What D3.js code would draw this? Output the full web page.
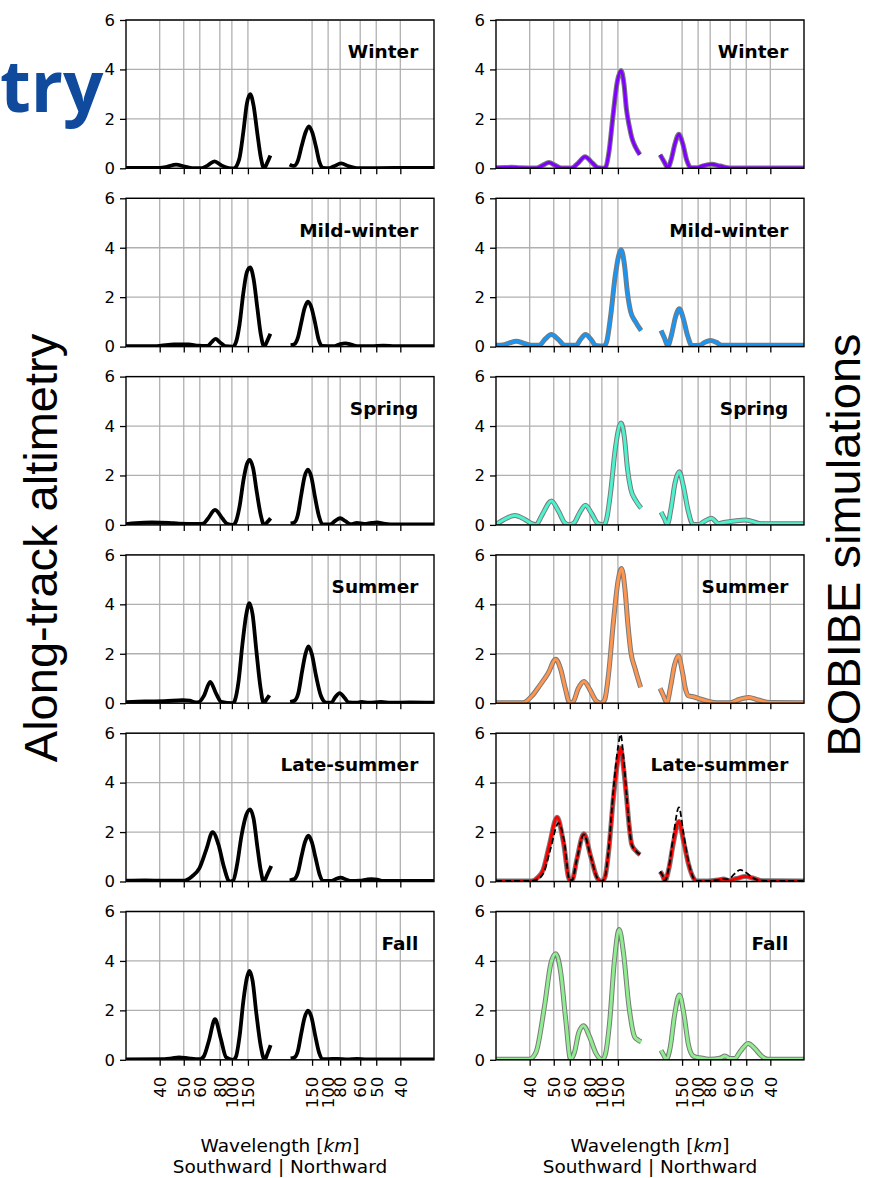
<!DOCTYPE html>
<html>
<head>
<meta charset="utf-8">
<script src="https://cdn.jsdelivr.net/npm/d3@7/dist/d3.min.js"></script>
<style>
  body { margin: 0; background: #fff; }
  text { font-family: "DejaVu Sans", sans-serif; }
</style>
</head>
<body>
<svg width="880" height="1178"></svg>
<script>
// wavenumber k in cycles per 1000 km (negative = southward), value = spectral amplitude
var seasons = ["Winter", "Mild-winter", "Spring", "Summer", "Late-summer", "Fall"];
var tickWavelengths = [40, 50, 60, 80, 100, 150];

var altWinter = [[-32,0.02],[-25,0.02],[-23.5,0.06],[-21.6,0.15],[-19.8,0.07],[-18.2,0.01],[-16.2,0.01],[-15,0.12],[-13.6,0.28],[-12.2,0.12],[-10.6,0.01],[-9.6,0],[-8.5,0.35],[-7.6,1.5],[-6.9,2.6],[-6.2,3.0],[-5.5,2.55],[-4.7,1.4],[-4.0,0.45],[-3.3,0],[-2.6,0.25],[-2.0,0.52],
  [2.0,0.15],[2.7,0.1],[3.0,0.1],[3.7,0.3],[4.5,0.9],[5.3,1.45],[6.0,1.7],[6.7,1.45],[7.5,0.85],[8.2,0.25],[8.9,0.02],[10.2,0.01],[11.2,0.08],[12.7,0.2],[14.2,0.09],[15.9,0.01],[20,0.01],[28,0.02],[32,0.02]];
var altMild = [[-32,0.02],[-26,0.02],[-24.7,0.04],[-22,0.09],[-19,0.09],[-17,0.04],[-15.1,0.03],[-14.2,0.18],[-13.4,0.31],[-12.5,0.18],[-11.4,0.02],[-9.8,0],[-9.2,0.15],[-8.4,0.9],[-7.6,2.2],[-6.9,3.0],[-6.2,3.2],[-5.5,2.75],[-4.7,1.55],[-4.0,0.5],[-3.3,0],[-2.6,0.25],[-2.0,0.52],
  [2.2,0.06],[3.0,0.1],[3.7,0.35],[4.4,0.95],[5.1,1.55],[5.8,1.82],[6.5,1.6],[7.3,0.95],[8.0,0.3],[8.7,0.03],[11.3,0.02],[12.5,0.1],[13.6,0.13],[14.8,0.08],[16,0.02],[19,0.02],[21.5,0.04],[24,0.02],[32,0.02]];
var altSpring = [[-32,0.03],[-30,0.07],[-26.6,0.1],[-23,0.08],[-21,0.05],[-17,0.04],[-16,0.05],[-15,0.25],[-13.5,0.61],[-12,0.27],[-11,0.05],[-9.8,0],[-9.2,0.12],[-8.4,0.75],[-7.6,1.8],[-6.9,2.45],[-6.3,2.63],[-5.6,2.3],[-4.8,1.3],[-4.0,0.4],[-3.3,0],[-2.6,0.12],[-1.95,0.27],
  [2.2,0.06],[3.0,0.1],[3.7,0.4],[4.4,1.2],[5.1,1.95],[5.8,2.24],[6.5,1.95],[7.3,1.1],[8.1,0.35],[8.8,0.03],[10.4,0.02],[11.4,0.15],[12.5,0.27],[13.6,0.15],[14.7,0.03],[16,0.08],[17.5,0.04],[19,0.08],[20.2,0.1],[21.5,0.05],[23,0.02],[32,0.02]];
var altSummer = [[-32,0.04],[-28,0.07],[-24,0.08],[-20.2,0.12],[-18.8,0.1],[-17.5,0.03],[-16.8,0.05],[-15.8,0.3],[-14.5,0.86],[-13.3,0.4],[-12.2,0.05],[-9.8,0],[-9.4,0.1],[-8.6,0.9],[-7.8,2.4],[-7.0,3.6],[-6.35,4.05],[-5.7,3.6],[-4.9,2.1],[-4.1,0.7],[-3.4,0],[-2.8,0.15],[-2.2,0.32],
  [2.1,0.05],[3.0,0.1],[3.8,0.4],[4.6,1.3],[5.3,2.0],[5.9,2.3],[6.6,2.0],[7.5,1.1],[8.5,0.3],[9.6,0.02],[10.7,0.03],[11.5,0.25],[12.4,0.41],[13.4,0.22],[14.3,0.03],[16,0.02],[16.9,0.05],[18.5,0.02],[21,0.05],[23,0.02],[27,0.03],[32,0.02]];
var altLate = [[-32,0.03],[-28,0.04],[-24,0.03],[-19.9,0.03],[-18.3,0.2],[-16.8,0.52],[-15.3,1.3],[-14,2.0],[-12.8,1.5],[-11.6,0.55],[-10.5,0],[-9.7,0.05],[-8.9,0.7],[-8.0,1.85],[-7.0,2.7],[-6.2,2.92],[-5.5,2.55],[-4.7,1.4],[-4.0,0.45],[-3.4,0],[-2.6,0.3],[-1.8,0.63],
  [2.0,0.05],[3.0,0.1],[3.7,0.35],[4.5,1.05],[5.2,1.6],[5.9,1.85],[6.6,1.6],[7.4,0.95],[8.2,0.3],[8.9,0.02],[10.6,0.02],[11.6,0.1],[12.6,0.16],[13.7,0.08],[14.8,0.02],[16.6,0.03],[18,0.08],[19,0.1],[20.2,0.08],[21.4,0.02],[32,0.02]];
var altFall = [[-32,0.02],[-24,0.03],[-22.5,0.06],[-21,0.1],[-19,0.06],[-17.5,0.03],[-16.6,0.03],[-15.8,0.15],[-14.8,0.75],[-13.5,1.64],[-12.3,0.85],[-11.2,0.1],[-9.8,0],[-9.2,0.1],[-8.4,0.95],[-7.6,2.4],[-6.9,3.3],[-6.35,3.6],[-5.7,3.2],[-4.9,1.85],[-4.0,0.55],[-3.2,0],[-2.6,0.25],[-1.95,0.59],
  [2.2,0.06],[3.0,0.1],[3.7,0.35],[4.4,1.05],[5.1,1.7],[5.8,1.99],[6.5,1.75],[7.3,1.0],[8.1,0.3],[8.8,0.03],[10,0.03],[12,0.04],[14,0.02],[16,0.04],[18,0.02],[32,0.02]];

var simWinter = [[-32,0.02],[-30,0.03],[-28.8,0.04],[-27,0.02],[-23.6,0.01],[-22.3,0.12],[-21,0.23],[-19.7,0.12],[-18.4,0.01],[-16.3,0.01],[-15,0.2],[-13.5,0.47],[-12,0.22],[-10.8,0.02],[-9.7,0],[-9.2,0.05],[-8.5,0.7],[-7.7,2.1],[-6.8,3.5],[-6.0,3.96],[-5.4,3.4],[-4.9,2.4],[-4.3,1.7],[-3.8,1.25],[-3.0,0.85],[-2.1,0.55],
  [2.1,0.55],[2.9,0.28],[3.7,0.02],[4.4,0.35],[5.2,1.0],[6.0,1.38],[6.8,1.0],[7.6,0.35],[8.5,0.02],[9.7,0.02],[11,0.1],[12.8,0.16],[14.6,0.09],[16.7,0.01],[32,0.01]];
var simMild = [[-32,0.05],[-30.6,0.06],[-29.2,0.15],[-27.8,0.22],[-26.2,0.13],[-24.6,0.05],[-23,0.05],[-21.8,0.3],[-20.5,0.49],[-19.1,0.3],[-17.7,0.05],[-15.4,0.05],[-14.4,0.3],[-13.4,0.49],[-12.3,0.3],[-11.3,0.05],[-9.6,0.02],[-9.0,0.2],[-8.2,1.2],[-7.2,2.9],[-6.0,3.92],[-5.3,3.3],[-4.7,2.2],[-4.0,1.4],[-3.0,1.0],[-1.85,0.65],
  [2.3,0.65],[3.0,0.35],[3.7,0.03],[4.5,0.5],[5.3,1.2],[6.1,1.53],[6.9,1.15],[7.8,0.45],[8.7,0.04],[10.3,0.05],[11.4,0.18],[12.6,0.25],[13.8,0.17],[14.9,0.05],[32,0.05]];
var simSpring = [[-32,0.02],[-30.5,0.2],[-28.1,0.38],[-26,0.22],[-24.6,0.05],[-23.7,0.01],[-22.3,0.45],[-20.5,0.97],[-19,0.55],[-17.7,0.08],[-16.8,0.01],[-15.8,0.08],[-14.6,0.5],[-13.4,0.79],[-12.1,0.45],[-10.8,0.05],[-9.6,0],[-9.0,0.25],[-8.2,1.3],[-7.2,3.1],[-6.0,4.12],[-5.3,3.5],[-4.7,2.3],[-4.0,1.45],[-3.0,1.0],[-1.85,0.68],
  [2.3,0.52],[3.0,0.25],[3.6,0.02],[4.4,0.7],[5.2,1.7],[6.1,2.15],[6.9,1.6],[7.9,0.6],[8.9,0.03],[10.2,0.02],[11.1,0.12],[12.75,0.27],[14.3,0.05],[15.3,0.1],[17.5,0.16],[19.9,0.2],[22.7,0.06],[24,0.05],[32,0.05]];
var simSummer = [[-32,0.02],[-26.4,0.02],[-24.5,0.3],[-22.9,0.72],[-21.2,1.2],[-19.6,1.78],[-18.6,1.4],[-17.6,0.6],[-16.7,0.02],[-16,0.05],[-14.9,0.6],[-13.7,0.88],[-12.5,0.55],[-11.2,0.1],[-10.1,0],[-9.4,0.15],[-8.6,1.2],[-7.6,3.3],[-6.6,5.0],[-5.9,5.45],[-5.2,4.6],[-4.6,3.2],[-4.0,2.1],[-3.1,1.4],[-1.95,0.65],
  [2.1,0.6],[2.8,0.3],[3.5,0.02],[4.3,0.7],[5.1,1.55],[5.9,1.92],[6.7,1.3],[7.4,0.55],[8.0,0.3],[9.2,0.25],[10.4,0.17],[12,0.08],[13.9,0.02],[16.7,0.02],[18.5,0.15],[20.5,0.23],[22.5,0.13],[25,0.03],[32,0.02]];
var simLate = [[-32,0.02],[-24.6,0.02],[-23.4,0.15],[-22.2,0.47],[-21,1.4],[-19.3,2.6],[-18,1.6],[-16.7,0.05],[-16.2,0.05],[-15.2,0.9],[-13.75,1.93],[-12.3,1.0],[-11,0.15],[-10.1,0],[-9.4,0.15],[-8.6,1.2],[-7.6,3.4],[-6.6,5.0],[-6.1,5.4],[-5.5,4.6],[-4.9,3.45],[-4.3,2.2],[-3.8,1.5],[-3.0,1.25],[-2.1,1.08],
  [2.1,0.4],[2.6,0.25],[3.1,0.02],[3.9,0.5],[4.9,1.6],[6.0,2.43],[7.0,1.6],[8.0,0.7],[9.0,0.15],[9.7,0.02],[12,0.02],[14,0.06],[15.3,0.1],[16.4,0.04],[18,0.12],[19.8,0.2],[21.5,0.13],[23.4,0.03],[32,0.02]];
var simLateRef = [[-32,0.02],[-24.6,0.02],[-23.2,0.1],[-22,0.4],[-20.7,1.3],[-19,2.36],[-17.8,1.6],[-16.7,0.05],[-16.2,0.05],[-15.2,0.9],[-13.75,1.9],[-12.3,1.0],[-11,0.15],[-10.1,0],[-9.4,0.15],[-8.6,1.3],[-7.6,3.7],[-6.6,5.5],[-6.1,5.95],[-5.5,5.0],[-4.9,3.6],[-4.3,2.2],[-3.8,1.5],[-3.0,1.25],[-2.1,1.1],
  [2.1,0.4],[2.6,0.25],[3.1,0.02],[3.9,0.55],[4.9,1.9],[6.0,3.0],[7.0,1.9],[8.0,0.8],[9.0,0.15],[9.7,0.02],[12,0.02],[14,0.06],[15.3,0.1],[16.4,0.1],[17.5,0.3],[18.75,0.47],[20,0.35],[21.5,0.13],[23.4,0.03],[32,0.02]];
var simFall = [[-32,0.02],[-25.1,0.02],[-23.7,0.3],[-21.9,2.2],[-20.6,3.9],[-19.6,4.29],[-18.6,3.6],[-17.5,1.6],[-16.5,0.02],[-15.7,0.3],[-14.8,1.1],[-13.8,1.38],[-12.6,0.95],[-11.2,0.25],[-9.9,0],[-9.3,0.2],[-8.4,1.5],[-7.4,4.0],[-6.4,5.27],[-5.5,4.3],[-4.4,2.2],[-3.2,0.93],[-2.5,0.8],[-1.85,0.73],
  [2.3,0.38],[2.8,0.2],[3.4,0.02],[4.2,0.5],[5.1,1.8],[6.1,2.62],[7.0,1.9],[8.0,0.6],[9.0,0.15],[9.8,0.1],[11,0.06],[12.5,0.02],[14.5,0.06],[15.6,0.15],[16.6,0.05],[17.6,0.05],[18.8,0.35],[20.4,0.66],[21.8,0.45],[23.2,0.15],[24.5,0.02],[32,0.02]];

var altSeries = [altWinter, altMild, altSpring, altSummer, altLate, altFall];
var simSeries = [simWinter, simMild, simSpring, simSummer, simLate, simFall];
var simColors = ["#8000ff", "#1996f3", "#4df3ce", "#ff964f", "#ff0000", "#90ee90"];

var svg = d3.select("svg");

// leftover slide title next to the figure
svg.append("text")
    .attr("x", 0).attr("y", 112)
    .style("font-family", "'Open Sans', sans-serif")
    .style("font-weight", 700)
    .style("font-size", "71px")
    .attr("fill", "#0f4a9c")
    .text("try");

svg.append("text")
    .attr("transform", "translate(57,548) rotate(-90)")
    .attr("text-anchor", "middle")
    .style("font-family", "'Liberation Sans', Arial, sans-serif")
    .style("font-size", "47px")
    .text("Along-track altimetry");
svg.append("text")
    .attr("transform", "translate(860,545) rotate(-90)")
    .attr("text-anchor", "middle")
    .style("font-family", "'Liberation Sans', Arial, sans-serif")
    .style("font-size", "47px")
    .text("BOBIBE simulations");

var W = 308, H = 148.3;
var colX = [126, 496];
var top0 = 20, rowStep = 178.3;

var x = d3.scaleLinear().domain([-32, 32]).range([0, W]);
var y = d3.scaleLinear().domain([0, 6]).range([H, 0]);

var tickVals = [], tickLab = {};
tickWavelengths.forEach(function(l) { tickVals.push(-1000 / l); tickLab[-1000 / l] = l; });
tickWavelengths.slice().reverse().forEach(function(l) { tickVals.push(1000 / l); tickLab[1000 / l] = l; });

var line = d3.line()
    .x(function(d) { return x(d[0]); })
    .y(function(d) { return y(d[1]); })
    .curve(d3.curveMonotoneX);

svg.append("defs").append("clipPath").attr("id", "clip")
  .append("rect").attr("x", 0).attr("y", 0).attr("width", W).attr("height", H);

function drawSeries(g, data, color, width, outline, dash) {
  var parts = [data.filter(function(d) { return d[0] < 0; }), data.filter(function(d) { return d[0] > 0; })];
  parts.forEach(function(p) {
    if (outline) {
      g.append("path").attr("d", line(p)).attr("fill", "none")
        .attr("stroke", "#7a7a7a").attr("stroke-width", width + 2)
        .attr("stroke-linejoin", "round").attr("stroke-linecap", "butt");
    }
    var path = g.append("path").attr("d", line(p)).attr("fill", "none")
      .attr("stroke", color).attr("stroke-width", width)
      .attr("stroke-linejoin", "round").attr("stroke-linecap", "butt");
    if (dash) path.attr("stroke-dasharray", dash);
  });
}

seasons.forEach(function(name, row) {
  [0, 1].forEach(function(col) {
    var g = svg.append("g")
        .attr("transform", "translate(" + colX[col] + "," + (top0 + row * rowStep) + ")");

    // grid
    g.append("g").selectAll("line").data(tickVals).enter().append("line")
        .attr("x1", function(d) { return x(d); }).attr("x2", function(d) { return x(d); })
        .attr("y1", 0).attr("y2", H)
        .attr("stroke", "#b0b0b0").attr("stroke-width", 1.3);
    g.append("g").selectAll("line").data([0, 2, 4, 6]).enter().append("line")
        .attr("x1", 0).attr("x2", W)
        .attr("y1", function(d) { return y(d); }).attr("y2", function(d) { return y(d); })
        .attr("stroke", "#b0b0b0").attr("stroke-width", 1.3);

    var lines = g.append("g").attr("clip-path", "url(#clip)");
    if (col === 0) {
      drawSeries(lines, altSeries[row], "#000", 3.8, false);
    } else {
      drawSeries(lines, simSeries[row], simColors[row], 3, true);
      if (name === "Late-summer") drawSeries(lines, simLateRef, "#000", 1.8, false, "6,3");
    }

    // spines
    g.append("rect").attr("width", W).attr("height", H)
        .attr("fill", "none").attr("stroke", "#000").attr("stroke-width", 1.4);

    var ya = g.append("g").call(d3.axisLeft(y).tickValues([0, 2, 4, 6])
        .tickFormat(d3.format("d")).tickSize(6).tickPadding(5));
    ya.select(".domain").remove();
    ya.selectAll("line").attr("stroke-width", 1.3);
    ya.selectAll("text").style("font-size", "16.5px").attr("font-family", null);

    var xa = g.append("g").attr("transform", "translate(0," + H + ")")
        .call(d3.axisBottom(x).tickValues(tickVals).tickSize(6)
          .tickFormat(function(d) { return row === 5 ? tickLab[d] : ""; }));
    xa.select(".domain").remove();
    xa.selectAll("line").attr("stroke-width", 1.3);
    xa.selectAll("text")
        .style("font-size", "16.5px").attr("font-family", null)
        .attr("transform", "rotate(-90)")
        .attr("y", 0).attr("x", -17).attr("dy", "0.35em")
        .attr("text-anchor", "end");

    g.append("text")
        .attr("x", W - 15.7).attr("y", 38.3)
        .attr("text-anchor", "end")
        .style("font-weight", "bold").style("font-size", "18.5px")
        .text(name);

    if (row === 5) {
      var xl = g.append("text").attr("text-anchor", "middle").style("font-size", "18.5px");
      var t1 = xl.append("tspan").attr("x", W / 2).attr("y", H + 91.7);
      t1.append("tspan").text("Wavelength [");
      t1.append("tspan").style("font-style", "italic").text("km");
      t1.append("tspan").text("]");
      xl.append("tspan").attr("x", W / 2).attr("y", H + 113.4).text("Southward | Northward");
    }
  });
});
</script>
</body>
</html>
